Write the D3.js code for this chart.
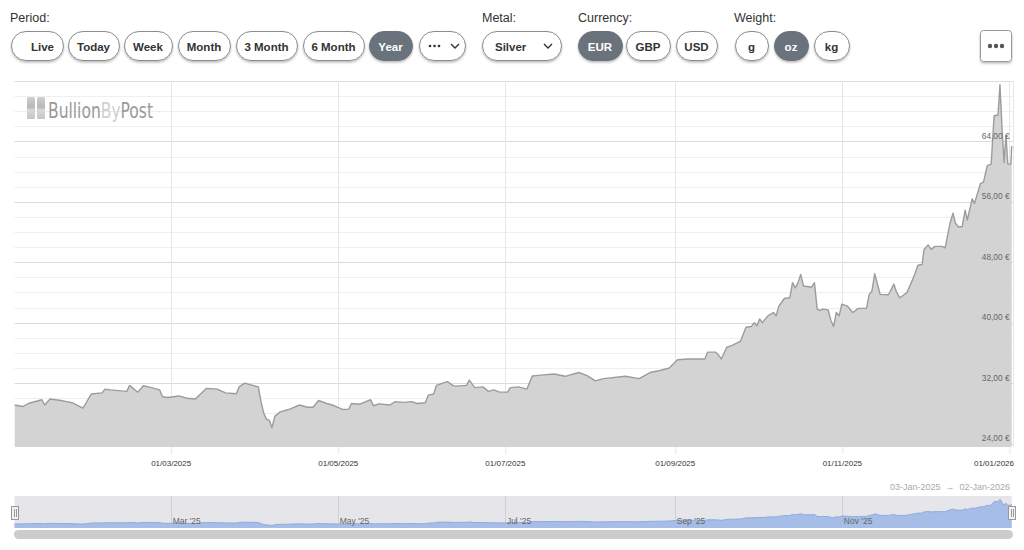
<!DOCTYPE html>
<html><head><meta charset="utf-8">
<script src="https://cdn.jsdelivr.net/npm/d3@7"></script>
<style>
body{margin:0;background:#fff;font-family:Arial,"Liberation Sans",sans-serif;}
svg{display:block}
</style></head><body>
<svg id="c" width="1024" height="550"></svg>
<script>
// ---------- DATA ----------
const dates = [
"2025-01-03","2025-01-06","2025-01-08","2025-01-13","2025-01-14","2025-01-16","2025-01-20","2025-01-22","2025-01-24","2025-01-28",
"2025-01-29","2025-01-31","2025-02-04","2025-02-05","2025-02-07","2025-02-10","2025-02-13","2025-02-14","2025-02-17","2025-02-19",
"2025-02-21","2025-02-25","2025-02-26","2025-02-28","2025-03-04","2025-03-07","2025-03-10","2025-03-14","2025-03-18","2025-03-21",
"2025-03-25","2025-03-26","2025-03-28","2025-03-31","2025-04-02","2025-04-03","2025-04-04","2025-04-05","2025-04-06","2025-04-07",
"2025-04-08","2025-04-10","2025-04-13","2025-04-15","2025-04-17","2025-04-20","2025-04-22","2025-04-24","2025-04-27","2025-04-29",
"2025-05-01","2025-05-03","2025-05-05","2025-05-06","2025-05-09","2025-05-13","2025-05-14","2025-05-16","2025-05-20","2025-05-22",
"2025-05-25","2025-05-28","2025-05-30","2025-06-02","2025-06-03","2025-06-05","2025-06-06","2025-06-10","2025-06-12","2025-06-13",
"2025-06-17","2025-06-18","2025-06-20","2025-06-23","2025-06-25","2025-06-27","2025-06-29","2025-07-02","2025-07-03","2025-07-06",
"2025-07-09","2025-07-11","2025-07-14","2025-07-19","2025-07-23","2025-07-28","2025-07-31","2025-08-03","2025-08-06","2025-08-14",
"2025-08-19","2025-08-23","2025-08-27","2025-08-30","2025-09-02","2025-09-06","2025-09-10","2025-09-12","2025-09-13","2025-09-16",
"2025-09-17","2025-09-18","2025-09-20","2025-09-22","2025-09-25","2025-09-27","2025-09-29","2025-09-30","2025-10-01","2025-10-02",
"2025-10-03","2025-10-05","2025-10-07","2025-10-08","2025-10-09","2025-10-11","2025-10-13","2025-10-14","2025-10-15","2025-10-16",
"2025-10-17","2025-10-18","2025-10-21","2025-10-22","2025-10-23","2025-10-24","2025-10-25","2025-10-27","2025-10-28","2025-10-29",
"2025-10-30","2025-10-31","2025-11-01","2025-11-03","2025-11-05","2025-11-07","2025-11-10","2025-11-11","2025-11-12","2025-11-13",
"2025-11-14","2025-11-15","2025-11-18","2025-11-20","2025-11-21","2025-11-22 05","2025-11-24 19","2025-11-26 14","2025-11-27 17","2025-11-28 19",
"2025-11-30 07","2025-12-01 00","2025-12-02 12","2025-12-03 14","2025-12-05 00","2025-12-07 14","2025-12-08 17","2025-12-10 12","2025-12-11 14","2025-12-12 10",
"2025-12-13 12","2025-12-14 22","2025-12-16 00","2025-12-16 19","2025-12-18 14","2025-12-19 10","2025-12-21 14","2025-12-22 17","2025-12-24 02","2025-12-25 12",
"2025-12-26 14","2025-12-28 00","2025-12-28 17","2025-12-29 12","2025-12-30 05","2025-12-30 22","2025-12-31 14","2026-01-01 17","2026-01-02 00"
];
const prices = [
29.1,28.9,29.3,29.8,29.1,29.9,29.7,29.55,29.4,28.7,
29.3,30.55,30.7,31.2,31.1,31.0,30.9,31.7,30.8,31.65,
31.5,31.1,30.2,30.1,30.3,30.0,29.9,31.3,31.2,30.7,
30.6,31.5,32.0,31.7,31.5,29.5,28.0,27.2,27.1,26.1,
27.6,28.2,28.5,28.8,29.1,28.8,28.8,29.7,29.3,29.1,
28.8,28.5,28.55,29.3,29.2,29.8,29.0,29.25,29.1,29.55,
29.45,29.55,29.3,29.4,30.4,30.55,31.7,32.2,31.7,31.6,
31.7,32.4,31.4,31.5,30.9,31.1,30.8,30.8,31.4,31.5,
31.2,32.95,33.05,33.2,32.9,33.4,33.0,32.3,32.6,32.9,
32.6,33.4,33.7,34.0,35.1,35.2,35.2,35.2,36.1,36.1,
35.7,35.2,36.75,37.0,37.55,39.4,39.5,40.0,39.6,40.5,
40.0,40.9,41.35,40.9,42.2,43.2,43.3,45.3,44.6,45.3,
46.4,44.85,44.7,45.3,41.8,41.6,41.8,41.7,40.3,39.5,
41.35,40.9,42.45,42.2,41.35,41.9,41.9,43.75,44.2,46.5,
45.1,43.75,43.7,45.1,44.0,43.3,44.0,45.5,46.5,47.6,
47.7,49.7,50.3,49.7,50.1,50.1,49.9,53.2,54.5,53.2,
52.7,52.7,54.9,53.6,56.4,55.8,58.4,58.6,60.8,61.0,
67.4,67.5,71.5,65.6,61.2,64.75,61.0,61.0,63.4
];
const yGridTicks = [24,26,28,30,32,34,36,38,40,42,44,46,48,50,52,54,56,58,60,62,64,66,68,70,72];
const yLabelTicks = [24,32,40,48,56,64];
const xTickDates = ["2025-03-01","2025-05-01","2025-07-01","2025-09-01","2025-11-01","2026-01-01"];
const navTickDates = ["2025-03-01","2025-05-01","2025-07-01","2025-09-01","2025-11-01"];
const navTickLabels = ["Mar '25","May '25","Jul '25","Sep '25","Nov '25"];
const periodButtons = ["Live","Today","Week","Month","3 Month","6 Month","Year"];
const currencyButtons = ["EUR","GBP","USD"];
const weightButtons = ["g","oz","kg"];
const watermarkParts = ["Bullion","By","Post"];
const rangeText = "03-Jan-2025  \u2192  02-Jan-2026";

// ---------- LAYOUT (pixel boxes of the toolbar buttons) ----------
const periodBoxes = [[11,63],[68,119],[124,172],[178,230],[236,297],[303,364],[369,412]];
const currencyBoxes = [[578,622],[626,670],[676,717]];
const weightBoxes = [[735,768],[774,808],[814,849]];

// ---------- SETUP ----------
const parseDay = d3.utcParse("%Y-%m-%d"), parseHour = d3.utcParse("%Y-%m-%d %H");
const parse = s => s.length > 10 ? parseHour(s) : parseDay(s);
const data = dates.map((d, i) => ({date: parse(d), v: prices[i]}));

const svg = d3.select("#c");
const defs = svg.append("defs");
const f = defs.append("filter").attr("id","sh").attr("x","-20%").attr("y","-30%").attr("width","140%").attr("height","170%");
f.append("feDropShadow").attr("dx",0).attr("dy",1.5).attr("stdDeviation",1.2).attr("flood-color","#000").attr("flood-opacity",0.28);

const plot = {l: 14.5, r: 1011.7, t: 81, b: 447};
const x = d3.scaleUtc().domain([parse("2025-01-03"), parse("2026-01-02")]).range([plot.l, plot.r]);
const y = d3.scaleLinear().domain([23.54, 72]).range([plot.b, plot.t]);

// ---------- CONTROLS ----------
const ctrl = svg.append("g");
function label(txt, x0) {
  ctrl.append("text").attr("x", x0).attr("y", 22).attr("font-size", 12.5).attr("fill", "#333").text(txt);
}
function button(txt, box, selected, shift) {
  const [x0, x1] = box, w = x1 - x0;
  ctrl.append("rect").attr("x", x0 + 0.5).attr("y", 31.5).attr("width", w).attr("height", 29).attr("rx", 14.5)
    .attr("fill", selected ? "#6b737b" : "#fff").attr("stroke", selected ? "#6b737b" : "#8c8c8c").attr("stroke-width", 1)
    .attr("filter", "url(#sh)");
  ctrl.append("text").attr("x", x0 + w / 2 + (shift || 0)).attr("y", 50.5).attr("font-size", 11.5).attr("font-weight", "bold")
    .attr("fill", selected ? "#fff" : "#333").attr("text-anchor", "middle").text(txt);
}
label("Period:", 10);
periodButtons.forEach((b, i) => button(b, periodBoxes[i], b === "Year", b === "Live" ? 5.5 : 0));
// more-periods dropdown
{
  const x0 = 419, w = 46;
  ctrl.append("rect").attr("x", x0 + 0.5).attr("y", 31.5).attr("width", w).attr("height", 29).attr("rx", 14.5)
    .attr("fill", "#fff").attr("stroke", "#8c8c8c").attr("filter", "url(#sh)");
  [0, 4.5, 9].forEach(dx => ctrl.append("circle").attr("cx", x0 + 11 + dx).attr("cy", 46).attr("r", 1.3).attr("fill", "#333"));
  ctrl.append("path").attr("d", `M${x0+32},44 l4,4 l4,-4`).attr("fill", "none").attr("stroke", "#333").attr("stroke-width", 1.4);
}
label("Metal:", 482);
{
  const x0 = 482, w = 79;
  ctrl.append("rect").attr("x", x0 + 0.5).attr("y", 31.5).attr("width", w).attr("height", 29).attr("rx", 14.5)
    .attr("fill", "#fff").attr("stroke", "#8c8c8c").attr("filter", "url(#sh)");
  ctrl.append("text").attr("x", x0 + 13).attr("y", 50.5).attr("font-size", 11.5).attr("font-weight", "bold").attr("fill", "#333").text("Silver");
  ctrl.append("path").attr("d", `M${x0+62},44 l4,4 l4,-4`).attr("fill", "none").attr("stroke", "#333").attr("stroke-width", 1.4);
}
label("Currency:", 578);
currencyButtons.forEach((b, i) => button(b, currencyBoxes[i], b === "EUR"));
label("Weight:", 734);
weightButtons.forEach((b, i) => button(b, weightBoxes[i], b === "oz"));
// "..." menu button
{
  ctrl.append("rect").attr("x", 980.5).attr("y", 30.5).attr("width", 31).attr("height", 31).attr("rx", 3)
    .attr("fill", "#fff").attr("stroke", "#999").attr("filter", "url(#sh)");
  [-6, 0, 6].forEach(dx => ctrl.append("circle").attr("cx", 996 + dx).attr("cy", 46).attr("r", 2.2).attr("fill", "#555"));
}

// ---------- GRID ----------
const grid = svg.append("g");
grid.selectAll("line.h").data(yGridTicks).join("line")
  .attr("x1", plot.l).attr("x2", 1013).attr("y1", d => Math.round(y(d)) + 0.5).attr("y2", d => Math.round(y(d)) + 0.5)
  .attr("stroke", d => (d - 24) % 8 === 0 ? "#dcdcdc" : "#efefef").attr("stroke-width", 1);
grid.selectAll("line.v").data(xTickDates).join("line")
  .attr("x1", d => Math.round(x(parse(d))) + 0.5).attr("x2", d => Math.round(x(parse(d))) + 0.5)
  .attr("y1", plot.t).attr("y2", plot.b)
  .attr("stroke", "#e6e6e6");
grid.append("line").attr("x1", 1013.5).attr("x2", 1013.5).attr("y1", plot.t).attr("y2", plot.b).attr("stroke", "#e6e6e6");

// ---------- WATERMARK ----------
{
  const wm = svg.append("g");
  const lg = defs.append("linearGradient").attr("id", "wmg").attr("x1", 0).attr("x2", 0).attr("y1", 0).attr("y2", 1);
  lg.append("stop").attr("offset", "0%").attr("stop-color", "#d0d0d0");
  lg.append("stop").attr("offset", "45%").attr("stop-color", "#b8b8b8");
  lg.append("stop").attr("offset", "60%").attr("stop-color", "#d8d8d8");
  lg.append("stop").attr("offset", "100%").attr("stop-color", "#c4c4c4");
  wm.append("rect").attr("x", 27).attr("y", 97).attr("width", 8).attr("height", 22).attr("rx", 1.5).attr("fill", "url(#wmg)");
  wm.append("rect").attr("x", 37).attr("y", 97).attr("width", 8).attr("height", 22).attr("rx", 1.5).attr("fill", "url(#wmg)");
  const tg = wm.append("g");
  const colors = ["#9a9a9a", "#d0d0d0", "#9a9a9a"];
  let tx = 0;
  watermarkParts.forEach((p, i) => {
    const t = tg.append("text").attr("x", tx).attr("y", 0).attr("font-size", 20)
      .attr("font-family", "'DejaVu Sans Condensed','DejaVu Sans',sans-serif").attr("font-stretch", "condensed")
      .attr("fill", colors[i]).text(p);
    tx += t.node().getComputedTextLength();
  });
  const sx = 105 / tx;
  tg.attr("transform", `translate(48,118) scale(${sx},1.08)`);
}

// ---------- SERIES ----------
svg.append("clipPath").attr("id", "pc").append("rect").attr("x", plot.l).attr("y", plot.t - 2).attr("width", 1013 - plot.l).attr("height", plot.b - plot.t + 2);
const area = d3.area().x(d => x(d.date)).y0(plot.b).y1(d => y(d.v));
const line = d3.line().x(d => x(d.date)).y(d => y(d.v));
const sg = svg.append("g").attr("clip-path", "url(#pc)");
sg.append("path").datum(data).attr("d", area).attr("fill", "#d3d3d3");
sg.append("path").datum(data).attr("d", line).attr("fill", "none").attr("stroke", "#9c9c9c").attr("stroke-width", 1.4).attr("stroke-linejoin", "round");

// ---------- AXES ----------
const fmt = d => d3.format(".2f")(d).replace(".", ",") + " \u20ac";
const ya = svg.append("g").attr("transform", "translate(1009.5,0)")
  .call(d3.axisLeft(y).tickValues(yLabelTicks).tickSize(0).tickPadding(0).tickFormat(fmt));
ya.select(".domain").remove();
ya.selectAll("text").attr("dy", "-3").attr("font-size", 8.3).attr("font-family", "Arial,'Liberation Sans',sans-serif").attr("fill", "#666");

const xa = svg.append("g").attr("transform", `translate(0,${plot.b})`)
  .call(d3.axisBottom(x).tickValues(xTickDates.map(parse)).tickSize(7).tickPadding(6).tickFormat(d3.utcFormat("%d/%m/%Y")));
xa.select(".domain").remove();
xa.selectAll(".tick line").attr("stroke", "#e6e6e6").attr("transform", "translate(0.5,0)");
xa.selectAll("text").attr("font-size", 8).attr("font-family", "Arial,'Liberation Sans',sans-serif").attr("fill", "#333");
xa.selectAll(".tick").each(function() {
  const t = d3.select(this).select("text");
  const tr = this.transform.baseVal.consolidate().matrix.e;
  const w = t.node().getComputedTextLength();
  if (tr + w / 2 > 1014) { t.attr("text-anchor", "end").attr("x", 1014 - tr); }
});

// ---------- NAVIGATOR ----------
const nav = {t: 496, b: 528};
const ny = d3.scaleLinear().domain([22, 77]).range([nav.b, nav.t]);
svg.append("rect").attr("x", plot.l).attr("y", nav.t).attr("width", plot.r - plot.l).attr("height", nav.b - nav.t).attr("fill", "#e5e5ea");
svg.append("g").selectAll("line").data(navTickDates).join("line")
  .attr("x1", d => Math.round(x(parse(d))) + 0.5).attr("x2", d => Math.round(x(parse(d))) + 0.5)
  .attr("y1", nav.t).attr("y2", nav.b).attr("stroke", "#cfcfd6");
const narea = d3.area().x(d => x(d.date)).y0(nav.b).y1(d => ny(d.v));
svg.append("path").datum(data).attr("d", narea).attr("fill", "#a6bde8");
svg.append("path").datum(data).attr("d", d3.line().x(d => x(d.date)).y(d => ny(d.v))).attr("fill", "none").attr("stroke", "#8fabe0").attr("stroke-width", 1);
svg.append("g").selectAll("text").data(navTickDates).join("text")
  .attr("x", d => x(parse(d)) + 2).attr("y", 524).attr("font-size", 8.5).attr("fill", "#666")
  .text((d, i) => navTickLabels[i]);
// handles
[plot.l, plot.r].forEach(hx => {
  const g = svg.append("g");
  g.append("rect").attr("x", Math.round(hx) - 3.5).attr("y", 506.5).attr("width", 7).attr("height", 13).attr("fill", "#f2f2f2").attr("stroke", "#999");
  g.append("line").attr("x1", Math.round(hx) - 0.5).attr("x2", Math.round(hx) - 0.5).attr("y1", 509).attr("y2", 517).attr("stroke", "#999");
  g.append("line").attr("x1", Math.round(hx) + 1.5).attr("x2", Math.round(hx) + 1.5).attr("y1", 509).attr("y2", 517).attr("stroke", "#999");
});
// scrollbar
svg.append("rect").attr("x", 14).attr("y", 530).attr("width", 999).attr("height", 9).attr("rx", 4.5).attr("fill", "#cccccc");
// range text
svg.append("text").attr("x", 1010).attr("y", 490).attr("text-anchor", "end").attr("font-size", 9).attr("fill", "#aaa")
  .attr("xml:space", "preserve").style("white-space", "pre").text(rangeText);
</script>
</body></html>
